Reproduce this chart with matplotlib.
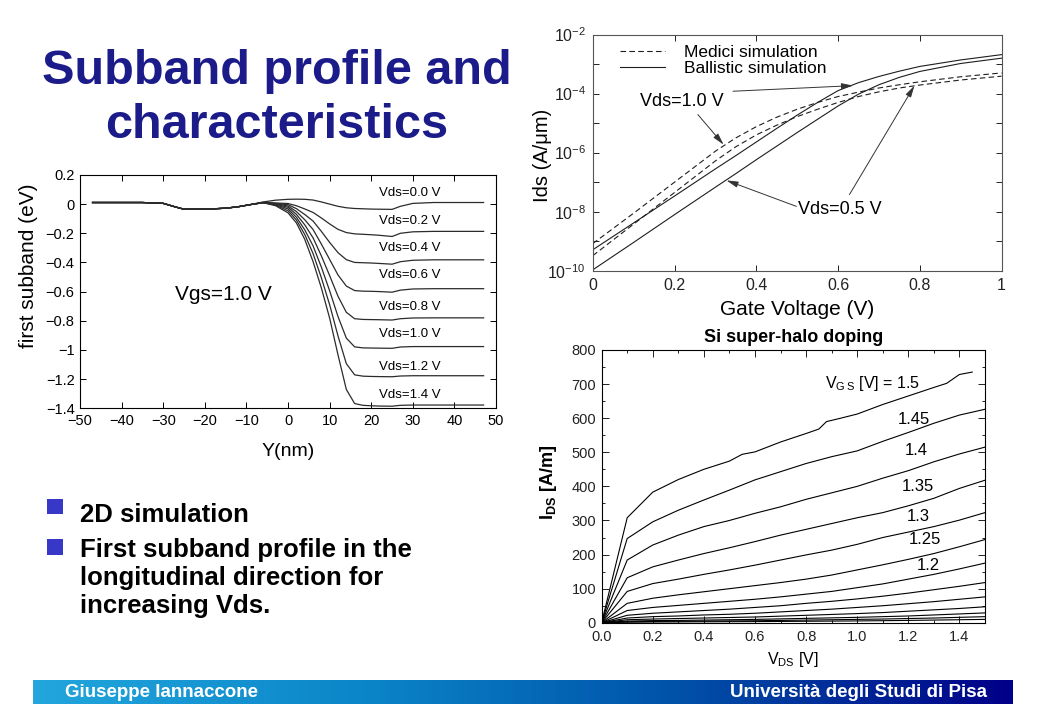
import numpy as np
import matplotlib
matplotlib.use("Agg")
import matplotlib.pyplot as plt
import matplotlib.ticker as ticker
import matplotlib.patches as patches
from matplotlib.colors import LinearSegmentedColormap

plt.rcParams["font.family"] = ["Liberation Sans", "DejaVu Sans"]
plt.rcParams["mathtext.default"] = "regular"
plt.rcParams["axes.unicode_minus"] = True

# ---------------- data: first subband profile (Vgs = 1.0 V) ----------------
y_nm = [-47, -35, -30, -27, -25, -20, -15, -12, -9,
        -6, -3, 0, 2, 4, 6, 8, 10, 12, 14, 16, 18, 20, 22, 25, 27, 30, 35, 47]
# shared part on the source side (x <= -9 nm)
eb_source = [0.011, 0.011, 0.005, -0.02, -0.035, -0.035, -0.028, -0.018, -0.003]
eb_vds00 = [0.015, 0.027, 0.033, 0.034, 0.033, 0.028, 0.015, 0.0, -0.015, -0.025,
            -0.03, -0.032, -0.034, -0.035, -0.036, -0.015, 0.005, 0.011, 0.011]
eb_vds02 = [0.012, 0.008, 0.004, -0.011, -0.033, -0.057, -0.095, -0.136, -0.173, -0.195,
            -0.204, -0.207, -0.21, -0.214, -0.222, -0.2, -0.19, -0.187, -0.187]
eb_vds04 = [0.01, 0.005, -0.004, -0.031, -0.071, -0.116, -0.187, -0.263, -0.333, -0.381,
            -0.4, -0.402, -0.404, -0.407, -0.412, -0.395, -0.385, -0.382, -0.382]
eb_vds06 = [0.01, 0.003, -0.013, -0.051, -0.107, -0.174, -0.274, -0.38, -0.486, -0.562,
            -0.593, -0.597, -0.598, -0.6, -0.604, -0.59, -0.582, -0.58, -0.58]
eb_vds08 = [0.01, 0.0, -0.022, -0.07, -0.142, -0.231, -0.355, -0.491, -0.632, -0.742,
            -0.786, -0.791, -0.792, -0.793, -0.795, -0.786, -0.781, -0.78, -0.78]
eb_vds10 = [0.01, -0.003, -0.033, -0.09, -0.176, -0.286, -0.432, -0.595, -0.771, -0.919,
            -0.979, -0.986, -0.987, -0.988, -0.989, -0.98, -0.977, -0.977, -0.977]
eb_vds12 = [0.01, -0.007, -0.046, -0.109, -0.208, -0.339, -0.505, -0.691, -0.904, -1.094,
            -1.171, -1.18, -1.182, -1.183, -1.184, -1.179, -1.177, -1.177, -1.177]
eb_vds14 = [0.01, -0.011, -0.06, -0.129, -0.241, -0.394, -0.575, -0.783, -1.034, -1.271,
            -1.368, -1.38, -1.383, -1.385, -1.386, -1.38, -1.378, -1.378, -1.378]
eb_curves = [eb_vds00, eb_vds02, eb_vds04, eb_vds06, eb_vds08, eb_vds10, eb_vds12, eb_vds14]
eb_labels = ["Vds=0.0 V", "Vds=0.2 V", "Vds=0.4 V", "Vds=0.6 V",
             "Vds=0.8 V", "Vds=1.0 V", "Vds=1.2 V", "Vds=1.4 V"]

# ---------------- data: Ids(Vgs), log10 of A/um ----------------
vg = [0, 0.1, 0.2, 0.3, 0.35, 0.4, 0.45, 0.5, 0.55, 0.6, 0.65, 0.7, 0.75, 0.8, 0.9, 1.0]
log_medici_10 = [-9.08, -8.05, -7.0, -5.95, -5.5, -5.12, -4.8, -4.53, -4.3, -4.1,
                 -3.95, -3.81, -3.7, -3.6, -3.43, -3.3]
log_medici_05 = [-9.49, -8.42, -7.35, -6.28, -5.8, -5.4, -5.07, -4.78, -4.53, -4.3,
                 -4.1, -3.94, -3.81, -3.71, -3.54, -3.41]
log_ballis_10 = [-9.29, -8.38, -7.47, -6.55, -6.1, -5.64, -5.18, -4.73, -4.3, -3.9,
                 -3.63, -3.42, -3.24, -3.08, -2.86, -2.68]
log_ballis_05 = [-9.97, -9.04, -8.1, -7.17, -6.71, -6.24, -5.78, -5.32, -4.87, -4.42,
                 -4.02, -3.7, -3.45, -3.25, -2.98, -2.8]

# ---------------- data: Ids(Vds), Si super-halo doping ----------------
vds = [0, 0.1, 0.2, 0.3, 0.4, 0.5, 0.6, 0.7, 0.8, 0.9, 1.0, 1.1, 1.2, 1.3, 1.4, 1.5]
vds_150 = [0, 0.1, 0.2, 0.3, 0.4, 0.5, 0.55, 0.6, 0.7, 0.8, 0.85, 0.88, 0.92,
           1.0, 1.1, 1.2, 1.3, 1.35, 1.4, 1.45]
ids_150 = [0, 308, 383, 420, 450, 474, 494, 501, 530, 555, 568, 590, 597,
           612, 640, 665, 690, 702, 728, 735]
ids_145 = [0, 247, 296, 330, 360, 389, 419, 443, 467, 487, 504, 532, 558, 585, 609, 626]
ids_140 = [0, 184, 228, 257, 282, 300, 321, 340, 362, 381, 400, 424, 446, 472, 495, 515]
ids_135 = [0, 132, 164, 184, 203, 220, 238, 257, 274, 291, 308, 323, 343, 365, 394, 418]
ids_130 = [0, 92, 115, 128, 142, 155, 169, 184, 199, 213, 230, 250, 266, 282, 301, 323]
ids_125 = [0, 57, 72, 82, 91, 100, 109, 118, 128, 140, 155, 170, 186, 203, 223, 244]
ids_120 = [0, 36, 45, 51, 57, 63, 69, 76, 84, 92, 103, 114, 128, 142, 158, 175]
ids_115 = [0, 22, 28, 32, 36, 40, 45, 50, 57, 63, 70, 78, 87, 97, 107, 118]
ids_110 = [0, 14, 18, 20, 23, 25, 28, 32, 36, 40, 45, 50, 56, 62, 69, 76]
ids_105 = [0, 9, 11, 12.5, 14, 15.5, 17, 19.5, 22, 24.5, 27, 30, 34, 38, 42, 47]
ids_100 = [0, 5, 6.5, 7, 8, 9, 10, 11.5, 13, 14.5, 16, 18, 20, 23, 26, 29]
ids_095 = [0, 3, 4, 4.5, 5, 5.5, 6, 7, 8, 9, 10, 11, 12.5, 14, 16, 18]
ids_090 = [0, 1.8, 2.3, 2.6, 3, 3.2, 3.5, 4, 4.5, 5, 5.5, 6.2, 7, 8, 9, 10]
ids_curves = [ids_145, ids_140, ids_135, ids_130, ids_125, ids_120,
              ids_115, ids_110, ids_105, ids_100, ids_095, ids_090]
vgs_labels = ["1.45", "1.4", "1.35", "1.3", "1.25", "1.2"]

fig = plt.figure(figsize=(10.4, 7.2), dpi=100)
fig.patch.set_facecolor("white")

# ---------------- slide text ----------------
title_col = "#1b1b8a"
fig.text(277 / 1040, 1 - 84 / 720, "Subband profile and", ha="center", va="baseline",
         fontsize=35, fontweight="bold", color=title_col)
fig.text(277 / 1040, 1 - 138 / 720, "characteristics", ha="center", va="baseline",
         fontsize=35, fontweight="bold", color=title_col)

bullet_lines = [("2D simulation", 521.7), ("First subband profile in the", 556.7),
                ("longitudinal direction for", 584.5), ("increasing Vds.", 613)]
for txt, yb in bullet_lines:
    fig.text(80 / 1040, 1 - yb / 720, txt, ha="left", va="baseline",
             fontsize=18.5, fontweight="bold", color="black")
for ytop in (499, 539.3):
    fig.patches.append(patches.Rectangle((47.3 / 1040, 1 - (ytop + 15.3) / 720),
                                         16 / 1040, 15.3 / 720, transform=fig.transFigure,
                                         facecolor="#3737c8", edgecolor="none"))

# ---------------- footer bar ----------------
axf = fig.add_axes([33 / 1040, 16 / 720, 980 / 1040, 24 / 720])
grad_cmap = LinearSegmentedColormap.from_list(
    "bar", ["#22a6dc", "#0b86c9", "#0050a8", "#000088"])
axf.imshow(np.linspace(0, 1, 256)[None, :], cmap=grad_cmap, aspect="auto",
           extent=[0, 1, 0, 1])
axf.set_axis_off()
axf.text(0.0327, 0.47, "Giuseppe Iannaccone", ha="left", va="center", color="white",
         fontsize=13.5, fontweight="bold")
axf.text(0.9735, 0.47, "Università degli Studi di Pisa", ha="right", va="center",
         color="white", fontsize=13.5, fontweight="bold")

# ---------------- left chart ----------------
ax1 = fig.add_axes([0.077, 0.433, 0.400, 0.324])
for tail in eb_curves:
    ax1.plot(y_nm, eb_source + tail, color="#2b2b2b", lw=0.9)
ax1.set_xlim(-50, 50)
ax1.set_ylim(-1.4, 0.2)
ax1.set_xticks(np.arange(-50, 51, 10))
ax1.set_yticks(np.round(np.arange(-1.4, 0.21, 0.2), 1))
ax1.xaxis.set_major_formatter(ticker.FuncFormatter(
    lambda v, p: f"{int(round(v))}".replace("-", "\u2212")))


def fmt_left_y(v, p):
    if abs(v) < 1e-9:
        return "0"
    s = f"{v:.1f}".rstrip("0").rstrip(".")
    return s.replace("-", "\u2212")


ax1.yaxis.set_major_formatter(ticker.FuncFormatter(fmt_left_y))
ax1.tick_params(direction="in", top=True, right=True, length=4, width=0.7,
                labelsize=10.5, pad=4)
for sp in ax1.spines.values():
    sp.set_linewidth(0.8)
label_y = [0.076, -0.116, -0.30, -0.487, -0.706, -0.89, -1.12, -1.31]
for txt, yl in zip(eb_labels, label_y):
    ax1.text(29.3, yl, txt, ha="center", va="center", fontsize=9.5)
ax1.text(-15.6, -0.62, "Vgs=1.0 V", ha="center", va="center", fontsize=15)
ax1.set_ylabel("first subband (eV)", fontsize=15)
ax1.yaxis.set_label_coords(-0.1, 0.61)
ax1.set_xlabel("Y(nm)", fontsize=14)
ax1.xaxis.set_label_coords(0.5, -0.15)

# ---------------- middle chart ----------------
ax2 = fig.add_axes([0.570, 0.624, 0.393, 0.328])
dash = (0, (5, 3))
lcol = "#1e1e1e"
ax2.plot(vg, 10 ** np.array(log_medici_10), ls=dash, color=lcol, lw=0.8,
         label="Medici simulation")
ax2.plot(vg, 10 ** np.array(log_medici_05), ls=dash, color=lcol, lw=0.8)
ax2.plot(vg, 10 ** np.array(log_ballis_10), ls="-", color=lcol, lw=0.8,
         label="Ballistic simulation")
ax2.plot(vg, 10 ** np.array(log_ballis_05), ls="-", color=lcol, lw=0.8)
ax2.set_yscale("log")
ax2.set_xlim(0, 1)
ax2.set_ylim(1e-10, 1e-2)
ax2.set_xticks([0, 0.2, 0.4, 0.6, 0.8, 1.0])
ax2.set_xticklabels(["0", "0.2", "0.4", "0.6", "0.8", "1"])
ax2.yaxis.set_major_locator(ticker.FixedLocator(10.0 ** np.arange(-10, -1)))
ax2.yaxis.set_minor_locator(ticker.NullLocator())


def fmt_log(v, p):
    e = int(round(np.log10(v)))
    return f"$10^{{{e}}}$" if e % 2 == 0 else ""


ax2.yaxis.set_major_formatter(ticker.FuncFormatter(fmt_log))
ax2.tick_params(direction="in", top=True, right=True, length=4, width=0.7,
                labelsize=11.5, pad=5, colors="#222222")
for sp in ax2.spines.values():
    sp.set_linewidth(0.8)
    sp.set_color("#555555")
ax2.legend(loc="upper left", bbox_to_anchor=(0.066, 0.955), frameon=False,
           fontsize=12.5, handlelength=2.6, handletextpad=1.1, labelspacing=0.05,
           borderpad=0, borderaxespad=0)
ax2.text(0.218, 10 ** -4.26, "Vds=1.0 V", ha="center", va="center", fontsize=13)
ax2.text(0.604, 10 ** -7.91, "Vds=0.5 V", ha="center", va="center", fontsize=13)
arrow_kw = dict(arrowstyle="-|>,head_length=0.7,head_width=0.18", color="#333333",
                lw=0.7, shrinkA=0, shrinkB=0, mutation_scale=10)
arrows = [((0.257, -4.71), (0.32, -5.73)), ((0.343, -3.92), (0.637, -3.73)),
          ((0.498, -7.82), (0.327, -6.94)), ((0.628, -7.42), (0.787, -3.73))]
for (x0, l0), (x1, l1) in arrows:
    ax2.annotate("", xy=(x1, 10 ** l1), xytext=(x0, 10 ** l0), arrowprops=arrow_kw)
ax2.set_ylabel("Ids (A/\u03bcm)", fontsize=14.5)
ax2.yaxis.set_label_coords(-0.1, 0.49)
ax2.set_xlabel("Gate Voltage (V)", fontsize=15)
ax2.xaxis.set_label_coords(0.5, -0.125)

# ---------------- right chart ----------------
ax3 = fig.add_axes([0.5785, 0.135, 0.3686, 0.379])
ax3.plot(vds_150, ids_150, color="black", lw=0.8)
for ids in ids_curves:
    ax3.plot(vds, ids, color="black", lw=0.8)
ax3.set_xlim(0, 1.5)
ax3.set_ylim(0, 800)
ax3.xaxis.set_major_locator(ticker.MultipleLocator(0.2))
ax3.xaxis.set_minor_locator(ticker.MultipleLocator(0.1))
ax3.yaxis.set_major_locator(ticker.MultipleLocator(100))
ax3.yaxis.set_minor_locator(ticker.MultipleLocator(50))
ax3.xaxis.set_major_formatter(ticker.FormatStrFormatter("%.1f"))
ax3.tick_params(which="both", direction="in", top=True, right=True, width=0.7,
                labelsize=10.5, colors="#222222")
ax3.tick_params(which="major", length=5, pad=4)
ax3.tick_params(axis="x", which="major", pad=5)
ax3.tick_params(which="minor", length=2.5)
for sp in ax3.spines.values():
    sp.set_linewidth(0.8)
ax3.text(0.874, 703, "V$_{G\\,S}$ [V] = 1.5", ha="left", va="center", fontsize=11.5)
label_pos = [(1.22, 597), (1.233, 504), (1.239, 399), (1.239, 311), (1.265, 245), (1.278, 169)]
for txt, (xl, yl) in zip(vgs_labels, label_pos):
    ax3.text(xl, yl, txt, ha="center", va="center", fontsize=12)
ax3.set_title("Si super-halo doping", fontsize=13, fontweight="bold", pad=6)
ax3.set_ylabel("I$_{DS}$ [A/m]", fontsize=13, fontweight="bold")
ax3.yaxis.set_label_coords(-0.11, 0.516)
ax3.set_xlabel("V$_{DS}$ [V]", fontsize=11.5)
ax3.xaxis.set_label_coords(0.5, -0.1)

fig.savefig("out.png", dpi=100)
